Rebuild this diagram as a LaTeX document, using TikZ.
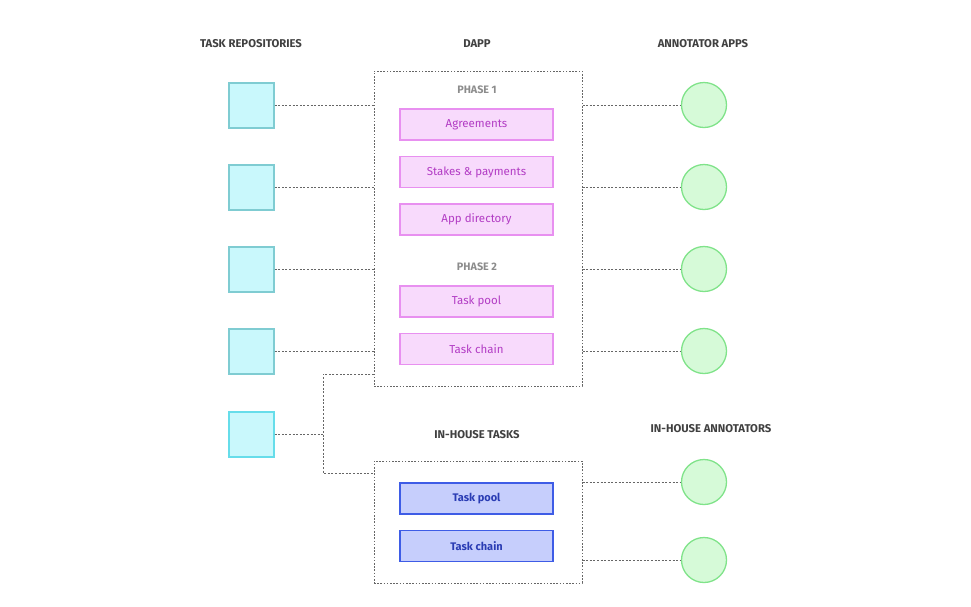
\documentclass[tikz,border=0pt]{standalone}
\usepackage{fontspec}
\setmainfont{Fira Sans}
\begin{document}
\begin{tikzpicture}[x=1pt,y=-1pt,
  head/.style={font=\bfseries\fontsize{11.3}{13}\selectfont, text=black!75},
  phase/.style={font=\bfseries\fontsize{10.8}{12}\selectfont, text=black!45},
  repo/.style={draw=repoB, fill=repoF, line width=1.3pt, minimum width=45pt, minimum height=45pt, inner sep=0pt},
  app/.style={circle, draw=appB, fill=appF, line width=1.3pt, minimum size=45pt, inner sep=0pt},
  pinkbox/.style={draw=pinkB, fill=pinkF, line width=1.4pt, minimum width=153pt, minimum height=31pt, inner sep=0pt, text=pinkT, font=\fontsize{11.5}{13}\selectfont},
  bluebox/.style={draw=blueB, fill=blueF, line width=1.4pt, minimum width=153pt, minimum height=31pt, inner sep=0pt, text=blueT, font=\bfseries\fontsize{11}{13}\selectfont},
  group/.style={draw=black!60, line width=1pt, dash pattern=on 1.6pt off 1.6pt, inner sep=0pt},
  link/.style={draw=black!60, line width=1pt, dash pattern=on 2pt off 1.6pt}
]
\definecolor{repoB}{HTML}{7FCCD2}
\definecolor{repoF}{HTML}{C9F8FC}
\definecolor{appB}{HTML}{80E38A}
\definecolor{appF}{HTML}{D6FAD8}
\definecolor{pinkB}{HTML}{E890F0}
\definecolor{pinkF}{HTML}{F8DAFC}
\definecolor{pinkT}{HTML}{B23CC4}
\definecolor{blueB}{HTML}{3E5CE6}
\definecolor{blueF}{HTML}{C6CEFC}
\definecolor{blueT}{HTML}{2A3CB4}
\definecolor{repoB2}{HTML}{66DDEA}

\useasboundingbox (0,0) rectangle (971,606);

% headings
\node[head] (h1) at (251,44) {TASK REPOSITORIES};
\node[head] (h2) at (477,44) {DAPP};
\node[head] (h3) at (703,44) {ANNOTATOR APPS};
\node[head] (h4) at (477,435) {IN-HOUSE TASKS};
\node[head] (h5) at (711,429) {IN-HOUSE ANNOTATORS};

% group boxes
\node[group, minimum width=208pt, minimum height=315pt] (dapp) at (478,228.5) {};
\node[group, minimum width=208pt, minimum height=122pt] (inh) at (478,522) {};

\node[phase] (p1) at (477,90) {PHASE 1};
\node[phase] (p2) at (477,267) {PHASE 2};

\node[pinkbox] (b1) at (476.5,124.5) {Agreements};
\node[pinkbox] (b2) at (476.5,172) {Stakes \& payments};
\node[pinkbox] (b3) at (476.5,219.5) {App directory};
\node[pinkbox] (b4) at (476.5,301.5) {Task pool};
\node[pinkbox] (b5) at (476.5,349) {Task chain};

\node[bluebox] (c1) at (476.5,498.5) {Task pool};
\node[bluebox] (c2) at (476.5,546) {Task chain};

% repos
\node[repo] (r1) at (251.5,105.5) {};
\node[repo] (r2) at (251.5,187.5) {};
\node[repo] (r3) at (251.5,269.5) {};
\node[repo] (r4) at (251.5,351.5) {};
\node[repo, draw=repoB2] (r5) at (251.5,434.5) {};

% apps
\node[app] (a1) at (704,105) {};
\node[app] (a2) at (704,187) {};
\node[app] (a3) at (704,269) {};
\node[app] (a4) at (704,351) {};
\node[app] (a5) at (704,482) {};
\node[app] (a6) at (704,560) {};

% connectors
\foreach \i in {1,2,3,4}{
  \draw[link] (r\i.east) -- (r\i.east -| dapp.west);
  \draw[link] (a\i.west -| dapp.east) -- (a\i.west);
}
\coordinate (j) at (323,434.5);
\coordinate (d1) at (374,374);
\coordinate (d2) at (374,473);
\draw[link] (r5.east) -- (j);
\draw[link] (d1) -| (j) |- (d2);
\draw[link] (a5.west -| inh.east) -- (a5.west);
\draw[link] (a6.west -| inh.east) -- (a6.west);
\end{tikzpicture}
\end{document}
